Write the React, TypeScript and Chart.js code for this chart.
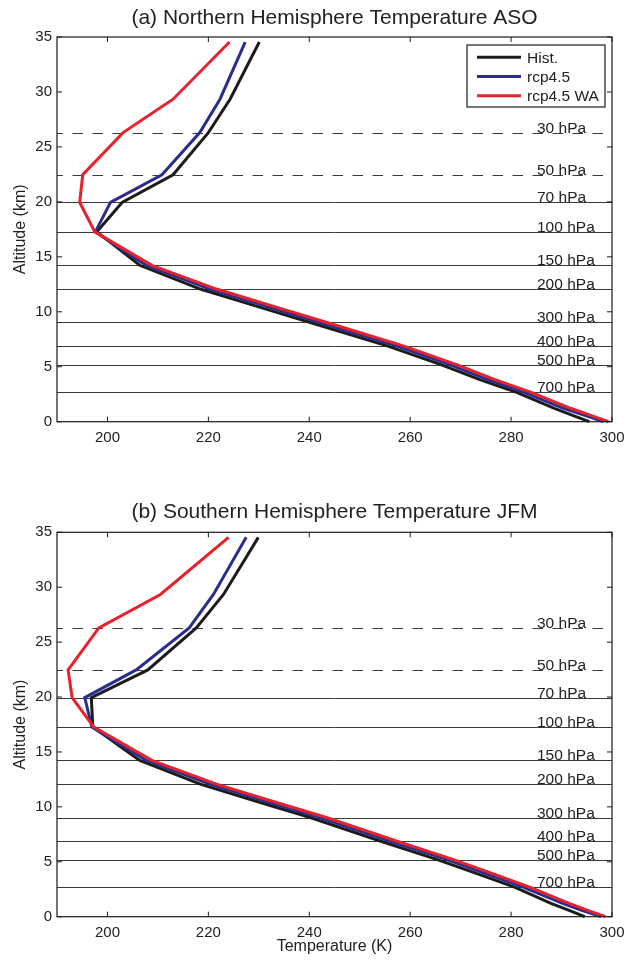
import React, { useEffect, useRef } from "react";
import { Chart, registerables } from "chart.js";

Chart.register(...registerables);

// ---- data ----
// altitudes (km) of the pressure levels 1000,925,850,700,600,500,400,300,250,200,150,100,70,50,30,20,10 hPa
const altitudeKm = [0, 0.58, 1.22, 2.67, 3.83, 5.2, 6.87, 9.03, 10.4, 12.07, 14.23, 17.27, 19.95, 22.47, 26.3, 29.34, 34.54];

// (a) Northern Hemisphere ASO temperatures (K)
const nhHist = [295.5, 292.2, 288.6, 281.1, 273.8, 266.1, 255.6, 240.2, 230.3, 218.4, 206.4, 197.9, 202.9, 213.0, 220.0, 224.3, 230.1];
const nhRcp45 = [298.3, 294.6, 290.4, 282.6, 275.4, 267.8, 257.4, 242.1, 232.2, 220.3, 207.7, 197.6, 200.6, 210.8, 218.3, 222.3, 227.3];
const nhRcp45WA = [299.3, 295.8, 291.8, 284.0, 276.8, 269.2, 258.8, 243.5, 233.6, 221.6, 208.8, 197.5, 194.5, 195.1, 203.1, 213.0, 224.2];

// (b) Southern Hemisphere JFM temperatures (K)
const shHist = [294.6, 291.5, 287.9, 280.8, 273.8, 265.4, 254.2, 240.2, 230.3, 218.4, 206.4, 197.1, 196.8, 208.0, 217.6, 223.0, 229.9];
const shRcp45 = [297.8, 294.0, 290.2, 282.5, 275.5, 267.3, 256.1, 242.1, 232.2, 220.3, 207.7, 196.9, 195.5, 205.7, 216.2, 221.0, 227.5];
const shRcp45WA = [298.7, 295.2, 291.5, 283.8, 276.9, 268.6, 257.4, 243.4, 233.5, 221.6, 208.8, 197.3, 193.0, 192.2, 198.3, 210.5, 224.0];

const seriesNames = ["Hist.", "rcp4.5", "rcp4.5 WA"];
const seriesColors = ["#1c1c1c", "#2b2c8f", "#e8212b"];

const tempTicks = [200, 220, 240, 260, 280, 300];
const altTicks = [0, 5, 10, 15, 20, 25, 30, 35];

const levelLabels = ["30 hPa", "50 hPa", "70 hPa", "100 hPa", "150 hPa", "200 hPa", "300 hPa", "400 hPa", "500 hPa", "700 hPa"];
const levelAltitudes = [26.3, 22.47, 19.95, 17.27, 14.23, 12.07, 9.03, 6.87, 5.2, 2.67];
const levelDashed = [true, true, false, false, false, false, false, false, false, false];

const FONT = "'Liberation Sans', Arial, Helvetica, sans-serif";
const TEXT = "#222222";

Chart.defaults.font.family = FONT;

function toPoints(temps: number[]) {
  return temps.map((t, i) => ({ x: t, y: altitudeKm[i] }));
}

type PanelProps = {
  title: string;
  series: number[][];
  showLegend: boolean;
  showXTitle: boolean;
  canvasHeight: number;
  padTop: number;
  titleBaseline: number;
  xAxisHeight: number;
};

function Panel(p: PanelProps) {
  const ref = useRef<HTMLCanvasElement>(null);

  useEffect(() => {
    const canvas = ref.current;
    if (!canvas) return;

    const decor = {
      id: "decor",
      beforeDatasetsDraw(chart: any) {
        const { ctx, chartArea: a, scales } = chart;
        const ys = scales.y;
        ctx.save();
        ctx.beginPath();
        ctx.rect(a.left, a.top, a.right - a.left, a.bottom - a.top);
        ctx.clip();
        levelAltitudes.forEach((alt, i) => {
          const y = Math.round(ys.getPixelForValue(alt)) + 0.5;
          ctx.beginPath();
          if (levelDashed[i]) {
            ctx.setLineDash([10.5, 9.5]);
            ctx.lineDashOffset = 4.5;
          } else {
            ctx.setLineDash([]);
            ctx.lineDashOffset = 0;
          }
          ctx.strokeStyle = "#3a3a3a";
          ctx.lineWidth = 1;
          ctx.moveTo(a.left, y);
          ctx.lineTo(levelDashed[i] ? a.right - 4 : a.right, y);
          ctx.stroke();
        });
        ctx.restore();
      },
      afterDatasetsDraw(chart: any) {
        const { ctx, chartArea: a, scales } = chart;
        const xs = scales.x;
        const ys = scales.y;
        ctx.save();
        ctx.setLineDash([]);

        // panel title, centred over the axes
        ctx.font = `21px ${FONT}`;
        ctx.fillStyle = TEXT;
        ctx.textAlign = "center";
        ctx.textBaseline = "alphabetic";
        ctx.fillText(p.title, (a.left + a.right) / 2, p.titleBaseline);

        // pressure level labels
        ctx.font = `15.5px ${FONT}`;
        ctx.textAlign = "left";
        levelAltitudes.forEach((alt, i) => {
          const y = ys.getPixelForValue(alt);
          ctx.fillText(levelLabels[i], a.right - 75, y);
        });

        // axes box
        ctx.strokeStyle = "#1a1a1a";
        ctx.lineWidth = 1.2;
        ctx.strokeRect(a.left, a.top, a.right - a.left, a.bottom - a.top);

        // inward ticks
        ctx.beginPath();
        tempTicks.forEach((v) => {
          const x = xs.getPixelForValue(v);
          ctx.moveTo(x, a.bottom);
          ctx.lineTo(x, a.bottom - 5);
          ctx.moveTo(x, a.top);
          ctx.lineTo(x, a.top + 5);
        });
        altTicks.forEach((v) => {
          const y = ys.getPixelForValue(v);
          ctx.moveTo(a.left, y);
          ctx.lineTo(a.left + 5, y);
          ctx.moveTo(a.right, y);
          ctx.lineTo(a.right - 5, y);
        });
        ctx.lineWidth = 1;
        ctx.stroke();

        // legend
        if (p.showLegend) {
          const bx = a.right - 145;
          const by = a.top + 8;
          const bw = 138;
          const bh = 62;
          ctx.fillStyle = "#ffffff";
          ctx.fillRect(bx, by, bw, bh);
          ctx.strokeStyle = "#1a1a1a";
          ctx.lineWidth = 1.2;
          ctx.strokeRect(bx, by, bw, bh);
          ctx.font = `15.5px ${FONT}`;
          ctx.textBaseline = "middle";
          seriesNames.forEach((name, i) => {
            const ry = by + 12.3 + i * 19.2;
            ctx.beginPath();
            ctx.strokeStyle = seriesColors[i];
            ctx.lineWidth = 3;
            ctx.moveTo(bx + 10, ry);
            ctx.lineTo(bx + 54, ry);
            ctx.stroke();
            ctx.fillStyle = TEXT;
            ctx.fillText(name, bx + 60, ry + 1);
          });
        }
        ctx.restore();
      },
    };

    const chart = new Chart(canvas, {
      type: "scatter",
      data: {
        datasets: p.series.map((s, i) => ({
          label: seriesNames[i],
          data: toPoints(s),
          showLine: true,
          borderColor: seriesColors[i],
          backgroundColor: seriesColors[i],
          borderWidth: 3,
          pointRadius: 0,
          pointHoverRadius: 0,
          order: 3 - i,
          clip: 3,
        })),
      },
      options: {
        responsive: false,
        animation: false,
        devicePixelRatio: 1,
        events: [],
        layout: { padding: { left: 0, right: 14, top: p.padTop, bottom: 0 } },
        plugins: {
          legend: { display: false },
          tooltip: { enabled: false },
          title: { display: false },
        },
        scales: {
          x: {
            type: "linear",
            position: "bottom",
            min: 190,
            max: 300,
            grid: { display: false, drawTicks: false },
            border: { display: false },
            afterBuildTicks: (s: any) => {
              s.ticks = tempTicks.map((v) => ({ value: v }));
            },
            afterFit: (s: any) => {
              s.height = p.xAxisHeight;
              s.paddingLeft = 0;
              s.paddingRight = 0;
            },
            ticks: {
              color: TEXT,
              font: { size: 15, family: FONT },
              padding: 7,
              maxRotation: 0,
              autoSkip: false,
            },
            title: {
              display: p.showXTitle,
              text: "Temperature (K)",
              color: TEXT,
              font: { size: 16, family: FONT },
              padding: { top: 0, bottom: 3.5 },
            },
          },
          y: {
            type: "linear",
            position: "left",
            min: 0,
            max: 35,
            grid: { display: false, drawTicks: false },
            border: { display: false },
            afterBuildTicks: (s: any) => {
              s.ticks = altTicks.map((v) => ({ value: v }));
            },
            afterFit: (s: any) => {
              s.width = 57;
              s.paddingTop = 0;
              s.paddingBottom = 0;
            },
            ticks: {
              color: TEXT,
              font: { size: 15, family: FONT },
              padding: 5,
              autoSkip: false,
            },
            title: {
              display: true,
              text: "Altitude (km)",
              color: TEXT,
              font: { size: 16, family: FONT },
              padding: { top: 10.5, bottom: 0 },
            },
          },
        },
      },
      plugins: [decor],
    } as any);

    return () => chart.destroy();
  }, []);

  return (
    <canvas
      ref={ref}
      width={626}
      height={p.canvasHeight}
      style={{ display: "block", width: 626, height: p.canvasHeight }}
    />
  );
}

export default function App() {
  return (
    <div style={{ position: "absolute", left: 0, top: 0, width: 626, height: 960, background: "#ffffff" }}>
      <Panel
        title="(a) Northern Hemisphere Temperature ASO"
        series={[nhHist, nhRcp45, nhRcp45WA]}
        showLegend={true}
        showXTitle={false}
        canvasHeight={470}
        padTop={37}
        titleBaseline={24}
        xAxisHeight={48.3}
      />
      <Panel
        title="(b) Southern Hemisphere Temperature JFM"
        series={[shHist, shRcp45, shRcp45WA]}
        showLegend={false}
        showXTitle={true}
        canvasHeight={490}
        padTop={62.3}
        titleBaseline={48.3}
        xAxisHeight={43.3}
      />
    </div>
  );
}
